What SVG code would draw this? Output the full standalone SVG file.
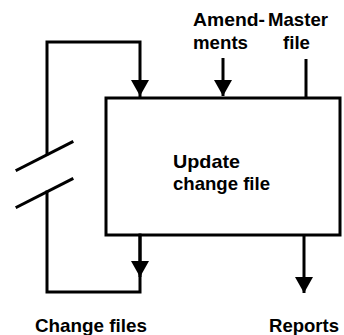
<svg xmlns="http://www.w3.org/2000/svg" width="344" height="335" viewBox="0 0 344 335">
  <style>
    .ln { fill: none; stroke: #000; stroke-width: 3; stroke-linejoin: miter; stroke-linecap: square; }
    .tx { font-family: "Liberation Sans", Arial, sans-serif; font-weight: bold; font-size: 18.5px; fill: #000; }
  </style>
  <defs>
    <marker id="ah" markerUnits="userSpaceOnUse" markerWidth="16" markerHeight="18" viewBox="0 0 16 18" refX="16" refY="9" orient="auto">
      <path d="M0,0 L16,9 L0,18 Z" fill="#000"/>
    </marker>
  </defs>
  <rect width="344" height="335" fill="#fff"/>

  <g id="update-change-file">
    <rect class="ln" x="106" y="98" width="234" height="137"/>
    <text class="tx" x="173" y="168" textLength="67" lengthAdjust="spacingAndGlyphs">Update</text>
    <text class="tx" x="173" y="190" textLength="97" lengthAdjust="spacingAndGlyphs">change file</text>
  </g>

  <g id="amendments">
    <text class="tx" x="193" y="26" textLength="72" lengthAdjust="spacingAndGlyphs">Amend-</text>
    <text class="tx" x="193" y="49" textLength="55" lengthAdjust="spacingAndGlyphs">ments</text>
  </g>

  <g id="master-file">
    <text class="tx" x="268" y="26" textLength="60" lengthAdjust="spacingAndGlyphs">Master</text>
    <text class="tx" x="283" y="49" textLength="27" lengthAdjust="spacingAndGlyphs">file</text>
  </g>

  <g id="change-files">
    <text class="tx" x="35" y="332" textLength="112" lengthAdjust="spacingAndGlyphs">Change files</text>
  </g>

  <g id="reports">
    <text class="tx" x="269" y="332" textLength="70" lengthAdjust="spacingAndGlyphs">Reports</text>
  </g>

  <g id="connectors">
    <!-- loop from change file output back to input -->
    <path class="ln" d="M140,235 L140,292 L47,292 L47,192"/>
    <path class="ln" d="M47,154 L47,42 L140,42 L140,96" marker-end="url(#ah)"/>
    <path d="M140,235 L140,277" fill="none" stroke="#000" stroke-width="3" marker-end="url(#ah)"/>
    <!-- break marks -->
    <line class="ln" x1="17" y1="170" x2="72" y2="142" stroke-linecap="butt"/>
    <line class="ln" x1="17" y1="207" x2="72" y2="179" stroke-linecap="butt"/>
    <!-- amendments input -->
    <path d="M223,58 L223,96" fill="none" stroke="#000" stroke-width="3" marker-end="url(#ah)"/>
    <!-- master file input -->
    <line x1="306" y1="59" x2="306" y2="98" stroke="#000" stroke-width="3"/>
    <!-- reports output -->
    <path d="M304,235 L304,293" fill="none" stroke="#000" stroke-width="3" marker-end="url(#ah)"/>
  </g>
</svg>
